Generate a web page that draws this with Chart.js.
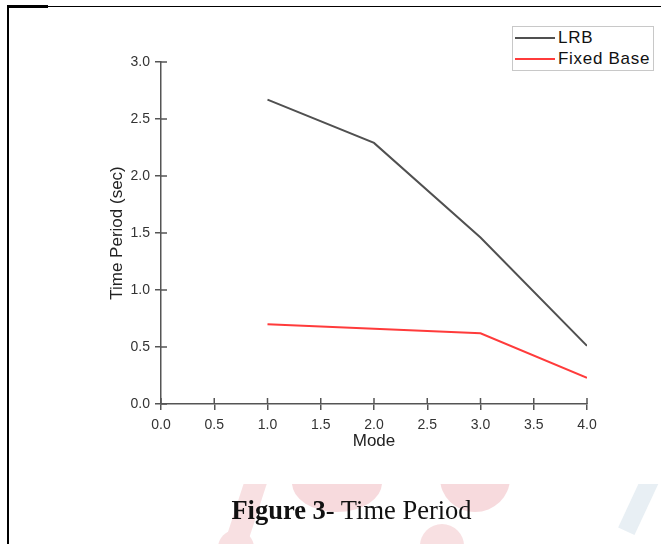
<!DOCTYPE html>
<html>
<head>
<meta charset="utf-8">
<script src="https://cdn.jsdelivr.net/npm/chart.js@4.4.1/dist/chart.umd.min.js"></script>
<style>
  html, body { margin: 0; padding: 0; background: #fff; }
  body { width: 661px; height: 544px; position: relative; overflow: hidden; font-family: "Liberation Sans", Arial, sans-serif; }
  #chart { position: absolute; left: 0; top: 0; }
  .rule { position: absolute; background: #000; }
  #legend { position: absolute; left: 512px; top: 26px; width: 142px; height: 45px; border: 1px solid #c8c8c8; background: #fff; box-sizing: border-box; }
  #legend .row { height: 21.5px; display: flex; align-items: center; font-size: 17px; letter-spacing: 0.7px; color: #111; }
  #legend .swatch { width: 40px; height: 2px; margin-left: 2px; margin-right: 3px; }
  #caption { position: absolute; left: 0; top: 497px; width: 703px; text-align: center; font-family: "Liberation Serif", "Times New Roman", serif; font-size: 26.5px; line-height: 26px; color: #111; white-space: nowrap; }
  #mark { position: absolute; left: 0; top: 484px; width: 661px; height: 60px; overflow: hidden; }
  #mark div { position: absolute; }
</style>
</head>
<body>
<div id="mark">
  <div style="left:218px;top:46px;width:36px;height:36px;border-radius:50%;background:#f8e0e2"></div>
  <div style="left:236px;top:-10px;width:22px;height:70px;background:#f8e0e2;transform:rotate(18deg)"></div>
  <div style="left:292px;top:-30px;width:90px;height:58px;border-radius:50%;background:#f7dadd"></div>
  <div style="left:440px;top:-40px;width:70px;height:68px;border-radius:50%;background:#f7dadd"></div>
  <div style="left:420px;top:40px;width:44px;height:44px;border-radius:50%;background:#f8e0e2"></div>
  <div style="left:506px;top:60px;width:42px;height:42px;border-radius:50%;background:#f8e0e2"></div>
  <div style="left:630px;top:-10px;width:18px;height:60px;background:#e8eff4;transform:rotate(25deg)"></div>
</div>
<canvas id="chart" width="661" height="544"></canvas>
<div class="rule" style="left:7px;top:5px;width:2px;height:539px"></div>
<div class="rule" style="left:7px;top:5px;width:41px;height:3px"></div>
<div class="rule" style="left:48px;top:6px;width:613px;height:1px"></div>
<div id="legend"></div>
<div id="caption"><b>Figure 3</b>- Time Period</div>
<script>
const modes = [1, 2, 3, 4];
const lrb = [2.67, 2.29, 1.46, 0.51];
const fixedBase = [0.70, 0.66, 0.62, 0.23];
const seriesNames = ['LRB', 'Fixed Base'];
const seriesColors = ['#505050', '#ff3b3b'];
const xTicks = [0, 0.5, 1, 1.5, 2, 2.5, 3, 3.5, 4];
const yTicks = [0, 0.5, 1, 1.5, 2, 2.5, 3];

document.addEventListener("DOMContentLoaded", function () {
  const axisColor = '#555';

  // ticks that cross the axis line: draw the inner half
  const innerTicks = {
    id: 'innerTicks',
    afterDraw(chart) {
      const c = chart.ctx;
      const xs = chart.scales.x, ys = chart.scales.y;
      c.save();
      c.strokeStyle = axisColor;
      c.lineWidth = 1.5;
      c.beginPath();
      xTicks.forEach(v => {
        const px = xs.getPixelForValue(v);
        c.moveTo(px, xs.top);
        c.lineTo(px, xs.top - 6);
      });
      yTicks.forEach(v => {
        const py = ys.getPixelForValue(v);
        c.moveTo(ys.right, py);
        c.lineTo(ys.right + 6, py);
      });
      c.stroke();
      c.restore();
    }
  };

  const toPoints = vals => modes.map((m, i) => ({ x: m, y: vals[i] }));

  const ctx = document.getElementById('chart').getContext('2d');
  new Chart(ctx, {
    type: 'line',
    data: {
      datasets: [
        { label: seriesNames[0], data: toPoints(lrb), borderColor: seriesColors[0], borderWidth: 2, pointRadius: 0, tension: 0 },
        { label: seriesNames[1], data: toPoints(fixedBase), borderColor: seriesColors[1], borderWidth: 2, pointRadius: 0, tension: 0 }
      ]
    },
    options: {
      responsive: false,
      animation: false,
      devicePixelRatio: 1,
      layout: { padding: { left: 100, right: 74, top: 62, bottom: 90 } },
      plugins: { legend: { display: false }, tooltip: { enabled: false } },
      scales: {
        x: {
          type: 'linear', min: 0, max: 4,
          afterBuildTicks: s => { s.ticks = xTicks.map(v => ({ value: v })); },
          afterFit: s => { s.height = 50; },
          ticks: { callback: v => v.toFixed(1), font: { family: 'Liberation Sans', size: 14 }, color: '#333', padding: 7, maxRotation: 0 },
          grid: { drawOnChartArea: false, drawTicks: true, tickLength: 6, color: axisColor, lineWidth: 1.5 },
          border: { display: true, color: axisColor, width: 1.5 },
          title: { display: true, text: 'Mode', font: { family: 'Liberation Sans', size: 17 }, color: '#222', padding: { top: 0, bottom: 2 } }
        },
        y: {
          type: 'linear', min: 0, max: 3,
          afterBuildTicks: s => { s.ticks = yTicks.map(v => ({ value: v })); },
          afterFit: s => { s.width = 61; },
          ticks: { callback: v => v.toFixed(1), font: { family: 'Liberation Sans', size: 14 }, color: '#333', padding: 5 },
          grid: { drawOnChartArea: false, drawTicks: true, tickLength: 6, color: axisColor, lineWidth: 1.5 },
          border: { display: true, color: axisColor, width: 1.5 },
          title: { display: true, text: 'Time Period (sec)', font: { family: 'Liberation Sans', size: 17 }, color: '#222', padding: { top: 7, bottom: 0 } }
        }
      }
    },
    plugins: [innerTicks]
  });

  // legend box
  const legend = document.getElementById('legend');
  seriesNames.forEach((name, i) => {
    const row = document.createElement('div');
    row.className = 'row';
    const sw = document.createElement('span');
    sw.className = 'swatch';
    sw.style.background = seriesColors[i];
    const label = document.createElement('span');
    label.textContent = name;
    row.appendChild(sw);
    row.appendChild(label);
    legend.appendChild(row);
  });
});
</script>
</body>
</html>
